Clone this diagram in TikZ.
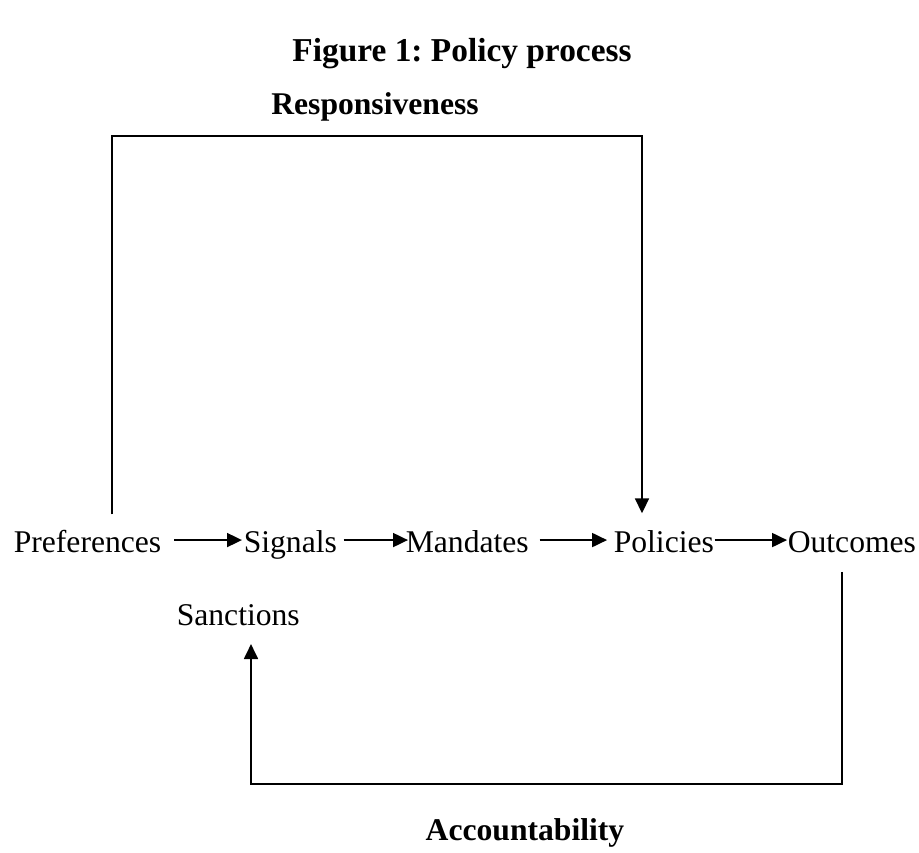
\documentclass[tikz,border=0pt]{standalone}
\usepackage{fontspec}
\setmainfont{Liberation Serif}
\frenchspacing
\usetikzlibrary{arrows.meta}

\begin{document}
\begin{tikzpicture}[x=0.02cm, y=-0.02cm, line width=0.9pt, line join=miter,
        >={Triangle[length=8.5pt, width=8pt]},
        stage/.style={inner sep=0pt, anchor=base west, text height=21pt, text depth=7.4pt,
            font=\fontsize{18}{20}\selectfont},
        heading/.style={inner sep=0pt, anchor=base, font=\fontsize{18}{20}\selectfont\bfseries}]
    \useasboundingbox (0,0) rectangle (919,852);

    % titel
    \node[heading, font=\fontsize{19}{22}\selectfont\bfseries] (title) at (462,61) {Figure 1: Policy process};

    % stappen van het beleidsproces
    \node[stage] (pref) at (13,552) {Preferences};
    \node[stage] (sig) at (243,552) {Signals};
    \node[stage] (man) at (405,552) {Mandates};
    \node[stage] (pol) at (613,552) {Policies};
    \node[stage] (out) at (787,552) {Outcomes};
    \node[stage] (san) at (176,625) {Sanctions};

    \draw[->, shorten <=6.8pt, shorten >=0.6pt] (pref) -- (sig);
    \draw[->, shorten <=3.4pt, shorten >=-1.7pt] (sig) -- (man);
    \draw[->, shorten <=5.7pt, shorten >=3.4pt] (man) -- (pol);
    \draw[->] (pol) -- (out);

    % responsiveness lus
    \coordinate (rtl) at (112,136);
    \coordinate (rtr) at (642,136);
    \node[heading] (resp) at (375,114) {Responsiveness};
    \draw[->, shorten >=0.6pt] (pref.north -| rtl) -- (rtl) -- (rtr) -- (pol.north -| rtr);

    % accountability lus
    \coordinate (abl) at (251,784);
    \coordinate (abr) at (842,784);
    \node[heading] (acc) at (525,840) {Accountability};
    \draw[->, shorten <=3.4pt, shorten >=3pt] (out.south -| abr) -- (abr) -- (abl) -- (san.south -| abl);
\end{tikzpicture}
\end{document}
